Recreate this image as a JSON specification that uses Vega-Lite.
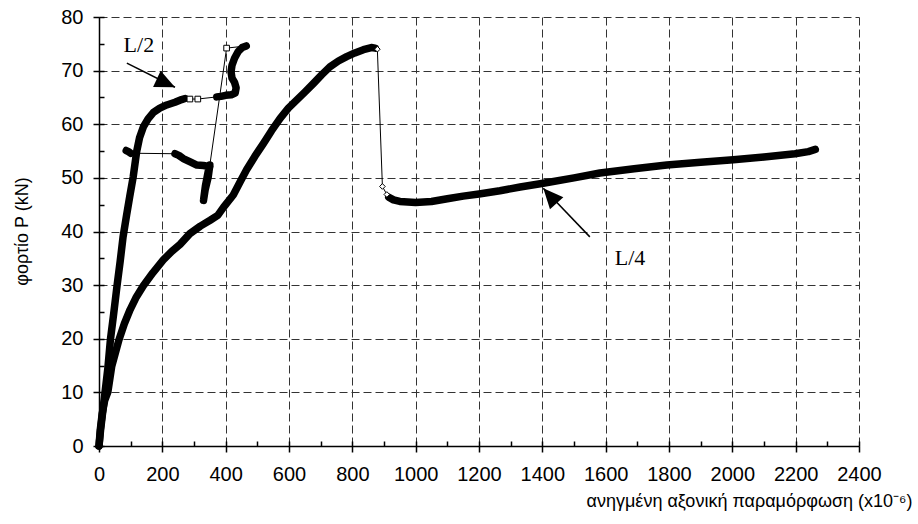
{
  "$schema": "https://vega.github.io/schema/vega-lite/v6.json",
  "width": 760,
  "height": 429,
  "autosize": {"type": "none"},
  "padding": {"left": 99, "top": 17, "right": 59, "bottom": 78},
  "background": "white",
  "config": {"view": {"stroke": null}, "font": "Liberation Sans"},
  "datasets": {
    "pts": [
      {"curve": "L/2", "seg": "a", "i": 1, "s": 0, "P": 0},
      {"curve": "L/2", "seg": "a", "i": 2, "s": 5, "P": 3},
      {"curve": "L/2", "seg": "a", "i": 3, "s": 10, "P": 5.5},
      {"curve": "L/2", "seg": "a", "i": 4, "s": 19, "P": 10},
      {"curve": "L/2", "seg": "a", "i": 5, "s": 28, "P": 14.5},
      {"curve": "L/2", "seg": "a", "i": 6, "s": 36, "P": 19.8},
      {"curve": "L/2", "seg": "a", "i": 7, "s": 46, "P": 24.5},
      {"curve": "L/2", "seg": "a", "i": 8, "s": 57, "P": 29.9},
      {"curve": "L/2", "seg": "a", "i": 9, "s": 67, "P": 34.5},
      {"curve": "L/2", "seg": "a", "i": 10, "s": 76, "P": 39},
      {"curve": "L/2", "seg": "a", "i": 11, "s": 87, "P": 43},
      {"curve": "L/2", "seg": "a", "i": 12, "s": 97, "P": 46.5},
      {"curve": "L/2", "seg": "a", "i": 13, "s": 108, "P": 50.2},
      {"curve": "L/2", "seg": "a", "i": 14, "s": 119, "P": 54.9},
      {"curve": "L/2", "seg": "a", "i": 15, "s": 128, "P": 57.5},
      {"curve": "L/2", "seg": "a", "i": 16, "s": 140, "P": 59.5},
      {"curve": "L/2", "seg": "a", "i": 17, "s": 155, "P": 61},
      {"curve": "L/2", "seg": "a", "i": 18, "s": 172, "P": 62.2},
      {"curve": "L/2", "seg": "a", "i": 19, "s": 192, "P": 63},
      {"curve": "L/2", "seg": "a", "i": 20, "s": 214, "P": 63.6},
      {"curve": "L/2", "seg": "a", "i": 21, "s": 240, "P": 64.1},
      {"curve": "L/2", "seg": "a", "i": 22, "s": 261, "P": 64.6},
      {"curve": "L/2", "seg": "a", "i": 23, "s": 272, "P": 64.8},
      {"curve": "L/2", "seg": "m", "i": 24, "s": 287, "P": 64.7},
      {"curve": "L/2", "seg": "m", "i": 25, "s": 312, "P": 64.7},
      {"curve": "L/2", "seg": "b", "i": 26, "s": 372, "P": 65.1},
      {"curve": "L/2", "seg": "b", "i": 27, "s": 385, "P": 65.2},
      {"curve": "L/2", "seg": "b", "i": 28, "s": 400, "P": 65.4},
      {"curve": "L/2", "seg": "b", "i": 29, "s": 418, "P": 65.5},
      {"curve": "L/2", "seg": "b", "i": 30, "s": 430, "P": 65.8},
      {"curve": "L/2", "seg": "b", "i": 31, "s": 433, "P": 66.8},
      {"curve": "L/2", "seg": "b", "i": 32, "s": 428, "P": 67.8},
      {"curve": "L/2", "seg": "b", "i": 33, "s": 420, "P": 68.6},
      {"curve": "L/2", "seg": "b", "i": 34, "s": 417, "P": 69.8},
      {"curve": "L/2", "seg": "b", "i": 35, "s": 420, "P": 71},
      {"curve": "L/2", "seg": "b", "i": 36, "s": 428, "P": 72.3},
      {"curve": "L/2", "seg": "b", "i": 37, "s": 440, "P": 73.6},
      {"curve": "L/2", "seg": "b", "i": 38, "s": 452, "P": 74.3},
      {"curve": "L/2", "seg": "b", "i": 39, "s": 465, "P": 74.6},
      {"curve": "L/2", "seg": "m", "i": 40, "s": 403, "P": 74.2},
      {"curve": "L/2", "seg": "c", "i": 41, "s": 350, "P": 52.4},
      {"curve": "L/2", "seg": "c", "i": 42, "s": 345, "P": 50.2},
      {"curve": "L/2", "seg": "c", "i": 43, "s": 335, "P": 47.7},
      {"curve": "L/2", "seg": "c", "i": 44, "s": 330, "P": 45.8},
      {"curve": "L/2", "seg": "c", "i": 45, "s": 336, "P": 48.5},
      {"curve": "L/2", "seg": "c", "i": 46, "s": 346, "P": 51.5},
      {"curve": "L/2", "seg": "c", "i": 47, "s": 350, "P": 52.1},
      {"curve": "L/2", "seg": "c", "i": 48, "s": 330, "P": 52.3},
      {"curve": "L/2", "seg": "c", "i": 49, "s": 309, "P": 52.4},
      {"curve": "L/2", "seg": "c", "i": 50, "s": 288, "P": 53},
      {"curve": "L/2", "seg": "c", "i": 51, "s": 266, "P": 53.6},
      {"curve": "L/2", "seg": "c", "i": 52, "s": 252, "P": 54.2},
      {"curve": "L/2", "seg": "c", "i": 53, "s": 240, "P": 54.5},
      {"curve": "L/2", "seg": "d", "i": 54, "s": 100, "P": 54.6},
      {"curve": "L/2", "seg": "d", "i": 55, "s": 93, "P": 54.9},
      {"curve": "L/2", "seg": "d", "i": 56, "s": 86, "P": 55.1},
      {"curve": "L/4", "seg": "e", "i": 1, "s": 0, "P": 0},
      {"curve": "L/4", "seg": "e", "i": 2, "s": 4, "P": 3},
      {"curve": "L/4", "seg": "e", "i": 3, "s": 10, "P": 6},
      {"curve": "L/4", "seg": "e", "i": 4, "s": 18, "P": 8.5},
      {"curve": "L/4", "seg": "e", "i": 5, "s": 28, "P": 10.1},
      {"curve": "L/4", "seg": "e", "i": 6, "s": 40, "P": 14.8},
      {"curve": "L/4", "seg": "e", "i": 7, "s": 63, "P": 19.8},
      {"curve": "L/4", "seg": "e", "i": 8, "s": 80, "P": 22.8},
      {"curve": "L/4", "seg": "e", "i": 9, "s": 98, "P": 25.4},
      {"curve": "L/4", "seg": "e", "i": 10, "s": 118, "P": 27.8},
      {"curve": "L/4", "seg": "e", "i": 11, "s": 140, "P": 29.9},
      {"curve": "L/4", "seg": "e", "i": 12, "s": 170, "P": 32.3},
      {"curve": "L/4", "seg": "e", "i": 13, "s": 203, "P": 34.7},
      {"curve": "L/4", "seg": "e", "i": 14, "s": 230, "P": 36.3},
      {"curve": "L/4", "seg": "e", "i": 15, "s": 256, "P": 37.6},
      {"curve": "L/4", "seg": "e", "i": 16, "s": 287, "P": 39.6},
      {"curve": "L/4", "seg": "e", "i": 17, "s": 320, "P": 41},
      {"curve": "L/4", "seg": "e", "i": 18, "s": 351, "P": 42.1},
      {"curve": "L/4", "seg": "e", "i": 19, "s": 375, "P": 43},
      {"curve": "L/4", "seg": "e", "i": 20, "s": 393, "P": 44.5},
      {"curve": "L/4", "seg": "e", "i": 21, "s": 424, "P": 46.8},
      {"curve": "L/4", "seg": "e", "i": 22, "s": 445, "P": 49.2},
      {"curve": "L/4", "seg": "e", "i": 23, "s": 466, "P": 51.5},
      {"curve": "L/4", "seg": "e", "i": 24, "s": 492, "P": 54},
      {"curve": "L/4", "seg": "e", "i": 25, "s": 519, "P": 56.4},
      {"curve": "L/4", "seg": "e", "i": 26, "s": 545, "P": 58.8},
      {"curve": "L/4", "seg": "e", "i": 27, "s": 572, "P": 61.1},
      {"curve": "L/4", "seg": "e", "i": 28, "s": 598, "P": 63},
      {"curve": "L/4", "seg": "e", "i": 29, "s": 624, "P": 64.5},
      {"curve": "L/4", "seg": "e", "i": 30, "s": 650, "P": 66},
      {"curve": "L/4", "seg": "e", "i": 31, "s": 677, "P": 67.6},
      {"curve": "L/4", "seg": "e", "i": 32, "s": 703, "P": 69.2},
      {"curve": "L/4", "seg": "e", "i": 33, "s": 729, "P": 70.7},
      {"curve": "L/4", "seg": "e", "i": 34, "s": 756, "P": 71.8},
      {"curve": "L/4", "seg": "e", "i": 35, "s": 782, "P": 72.6},
      {"curve": "L/4", "seg": "e", "i": 36, "s": 808, "P": 73.3},
      {"curve": "L/4", "seg": "e", "i": 37, "s": 835, "P": 73.9},
      {"curve": "L/4", "seg": "e", "i": 38, "s": 860, "P": 74.3},
      {"curve": "L/4", "seg": "e", "i": 39, "s": 872, "P": 74.2},
      {"curve": "L/4", "seg": "m", "i": 40, "s": 879, "P": 74.0},
      {"curve": "L/4", "seg": "m", "i": 41, "s": 895, "P": 48.4},
      {"curve": "L/4", "seg": "m", "i": 42, "s": 909, "P": 46.9},
      {"curve": "L/4", "seg": "f", "i": 43, "s": 915, "P": 46.4},
      {"curve": "L/4", "seg": "f", "i": 44, "s": 930, "P": 45.9},
      {"curve": "L/4", "seg": "f", "i": 45, "s": 950, "P": 45.6},
      {"curve": "L/4", "seg": "f", "i": 46, "s": 1000, "P": 45.4},
      {"curve": "L/4", "seg": "f", "i": 47, "s": 1050, "P": 45.6},
      {"curve": "L/4", "seg": "f", "i": 48, "s": 1100, "P": 46.1},
      {"curve": "L/4", "seg": "f", "i": 49, "s": 1150, "P": 46.6},
      {"curve": "L/4", "seg": "f", "i": 50, "s": 1200, "P": 47.0},
      {"curve": "L/4", "seg": "f", "i": 51, "s": 1266, "P": 47.6},
      {"curve": "L/4", "seg": "f", "i": 52, "s": 1330, "P": 48.3},
      {"curve": "L/4", "seg": "f", "i": 53, "s": 1403, "P": 49.0},
      {"curve": "L/4", "seg": "f", "i": 54, "s": 1500, "P": 50.0},
      {"curve": "L/4", "seg": "f", "i": 55, "s": 1582, "P": 50.9},
      {"curve": "L/4", "seg": "f", "i": 56, "s": 1690, "P": 51.7},
      {"curve": "L/4", "seg": "f", "i": 57, "s": 1793, "P": 52.4},
      {"curve": "L/4", "seg": "f", "i": 58, "s": 1900, "P": 52.9},
      {"curve": "L/4", "seg": "f", "i": 59, "s": 2003, "P": 53.4},
      {"curve": "L/4", "seg": "f", "i": 60, "s": 2100, "P": 53.9},
      {"curve": "L/4", "seg": "f", "i": 61, "s": 2198, "P": 54.5},
      {"curve": "L/4", "seg": "f", "i": 62, "s": 2240, "P": 54.9},
      {"curve": "L/4", "seg": "f", "i": 63, "s": 2262, "P": 55.3}
    ],
    "ann": [
      {"label": "L/2", "ts": 126, "tP": 74.8, "s": 88, "P": 71.4, "s2": 240, "P2": 66.9},
      {"label": "L/4", "ts": 1677, "tP": 35.1, "s": 1550, "P": 39.0, "s2": 1403, "P2": 48.05}
    ]
  },
  "resolve": {
    "scale": {"x": "independent", "y": "independent"},
    "axis": {"x": "independent", "y": "independent"}
  },
  "layer": [
    {
      "data": {"name": "pts"},
      "mark": {"type": "line", "stroke": "black", "strokeWidth": 1, "interpolate": "linear", "clip": true},
      "encoding": {
        "x": {
          "field": "s", "type": "quantitative",
          "scale": {"domain": [0, 2400], "nice": false, "zero": false},
          "axis": {
            "orient": "bottom",
            "values": [0, 200, 400, 600, 800, 1000, 1200, 1400, 1600, 1800, 2000, 2200, 2400],
            "format": "d",
            "grid": true, "gridDash": [8, 4], "gridColor": "#333", "gridWidth": 1, "gridOpacity": 1,
            "domainColor": "black", "domainWidth": 1.5,
            "ticks": true, "tickColor": "black", "tickWidth": 1.5, "tickSize": 6,
            "labelFontSize": 20, "labelColor": "black", "labelPadding": 12, "labelFlush": false, "labelOverlap": false,
            "title": "ανηγμένη αξονική παραμόρφωση (x10⁻⁶)",
            "titleFontSize": 18, "titleFontWeight": "normal", "titleColor": "black",
            "titleAlign": "right", "titleAnchor": "end", "titleBaseline": "alphabetic",
            "titleX": 813, "titleY": 60
          }
        },
        "y": {
          "field": "P", "type": "quantitative",
          "scale": {"domain": [0, 80], "nice": false, "zero": false},
          "axis": {
            "orient": "left",
            "values": [0, 10, 20, 30, 40, 50, 60, 70, 80],
            "format": "d",
            "grid": true, "gridDash": [8, 4], "gridColor": "#333", "gridWidth": 1, "gridOpacity": 1,
            "domainColor": "black", "domainWidth": 1.5,
            "ticks": true, "tickColor": "black", "tickWidth": 1.5, "tickSize": 6,
            "labelFontSize": 20, "labelColor": "black", "labelPadding": 10, "labelFlush": false, "labelOverlap": false,
            "title": "φορτίο P (kN)",
            "titleFontSize": 18, "titleFontWeight": "normal", "titleColor": "black",
            "titleAngle": -90, "titleAlign": "center", "titleBaseline": "middle",
            "titleX": -77, "titleY": 214
          }
        },
        "detail": {"field": "curve"},
        "order": {"field": "i", "type": "quantitative"}
      }
    },
    {
      "data": {"name": "pts"},
      "mark": {"type": "line", "stroke": "black", "strokeWidth": 1, "opacity": 0},
      "encoding": {
        "x": {
          "field": "s", "type": "quantitative",
          "scale": {"domain": [0, 2400], "nice": false, "zero": false},
          "axis": {
            "orient": "top", "offset": -429,
            "values": [100, 300, 500, 700, 900, 1100, 1300, 1500, 1700, 1900, 2100, 2300, 0, 200, 400, 600, 800, 1000, 1200, 1400, 1600, 1800, 2000, 2200, 2400],
            "labels": true, "labelExpr": "''",
            "domain": false, "grid": false, "title": null,
            "ticks": true, "tickColor": "black", "tickWidth": 1.5, "tickSize": 5
          }
        },
        "y": {
          "field": "P", "type": "quantitative",
          "scale": {"domain": [0, 80], "nice": false, "zero": false},
          "axis": {
            "orient": "right", "offset": -760,
            "values": [5, 15, 25, 35, 45, 55, 65, 75, 0, 10, 20, 30, 40, 50, 60, 70, 80],
            "labels": true, "labelExpr": "''",
            "domain": false, "grid": false, "title": null,
            "ticks": true, "tickColor": "black", "tickWidth": 1.5, "tickSize": 5
          }
        },
        "detail": {"field": "curve"}
      }
    },
    {
      "data": {"name": "pts"},
      "transform": [{"filter": "datum.seg !== 'm'"}],
      "mark": {"type": "line", "stroke": "black", "strokeWidth": 7.5, "strokeCap": "round", "strokeJoin": "round", "interpolate": "linear"},
      "encoding": {
        "x": {"field": "s", "type": "quantitative", "scale": {"domain": [0, 2400], "nice": false, "zero": false}, "axis": null},
        "y": {"field": "P", "type": "quantitative", "scale": {"domain": [0, 80], "nice": false, "zero": false}, "axis": null},
        "detail": {"field": "seg"},
        "order": {"field": "i", "type": "quantitative"}
      }
    },
    {
      "data": {"name": "pts"},
      "transform": [{"filter": "datum.seg === 'm'"}],
      "mark": {"type": "point", "filled": true, "fill": "white", "stroke": "black", "strokeWidth": 1, "opacity": 1},
      "encoding": {
        "x": {"field": "s", "type": "quantitative", "scale": {"domain": [0, 2400], "nice": false, "zero": false}, "axis": null},
        "y": {"field": "P", "type": "quantitative", "scale": {"domain": [0, 80], "nice": false, "zero": false}, "axis": null},
        "shape": {"field": "curve", "type": "nominal", "scale": {"domain": ["L/2", "L/4"], "range": ["square", "diamond"]}, "legend": null},
        "size": {"value": 32}
      }
    },
    {
      "data": {"name": "ann"},
      "mark": {"type": "rule", "stroke": "black", "strokeWidth": 1.5},
      "encoding": {
        "x": {"field": "s", "type": "quantitative", "scale": {"domain": [0, 2400], "nice": false, "zero": false}, "axis": null},
        "y": {"field": "P", "type": "quantitative", "scale": {"domain": [0, 80], "nice": false, "zero": false}, "axis": null},
        "x2": {"field": "s2"},
        "y2": {"field": "P2"}
      }
    },
    {
      "data": {"name": "ann"},
      "mark": {"type": "point", "filled": true, "color": "black", "opacity": 1, "shape": "M0,0 L0.45,1 L-0.45,1 Z", "size": 1600},
      "encoding": {
        "x": {"field": "s2", "type": "quantitative", "scale": {"domain": [0, 2400], "nice": false, "zero": false}, "axis": null},
        "y": {"field": "P2", "type": "quantitative", "scale": {"domain": [0, 80], "nice": false, "zero": false}, "axis": null},
        "angle": {"field": "label", "type": "nominal", "scale": {"domain": ["L/2", "L/4"], "range": [115, 318]}, "legend": null}
      }
    },
    {
      "data": {"name": "ann"},
      "mark": {"type": "text", "font": "Liberation Serif", "fontSize": 22, "color": "black", "align": "center", "baseline": "middle"},
      "encoding": {
        "x": {"field": "ts", "type": "quantitative", "scale": {"domain": [0, 2400], "nice": false, "zero": false}, "axis": null},
        "y": {"field": "tP", "type": "quantitative", "scale": {"domain": [0, 80], "nice": false, "zero": false}, "axis": null},
        "text": {"field": "label"}
      }
    }
  ]
}
